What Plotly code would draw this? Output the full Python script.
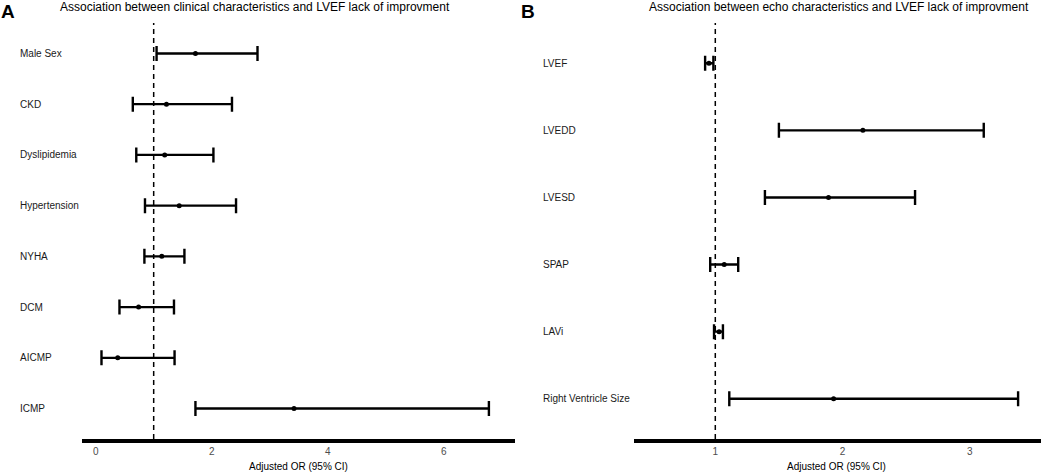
import plotly.graph_objects as go

# panel A: clinical characteristics
clin_labels = ["Male Sex", "CKD", "Dyslipidemia", "Hypertension", "NYHA", "DCM", "AICMP", "ICMP"]
clin_or = [1.72, 1.22, 1.19, 1.44, 1.14, 0.74, 0.38, 3.42]
clin_lo = [1.05, 0.64, 0.70, 0.85, 0.84, 0.41, 0.10, 1.72]
clin_hi = [2.79, 2.35, 2.03, 2.42, 1.53, 1.35, 1.36, 6.78]
clin_ticks = [0, 2, 4, 6]

# panel B: echo characteristics
echo_labels = ["LVEF", "LVEDD", "LVESD", "SPAP", "LAVi", "Right Ventricle Size"]
echo_or = [0.95, 2.16, 1.89, 1.07, 1.03, 1.93]
echo_lo = [0.92, 1.50, 1.39, 0.96, 0.99, 1.11]
echo_hi = [0.985, 3.11, 2.57, 1.18, 1.06, 3.38]
echo_ticks = [1, 2, 3]

W, H = 1041, 476
FONT = "Liberation Sans, Arial, sans-serif"

fig = go.Figure()


def add_panel(fig, labels, ors, lo, hi, xa, ya):
    ypos = list(range(1, len(labels) + 1))
    fig.add_trace(go.Scatter(
        x=ors, y=ypos, mode="markers", xaxis=xa, yaxis=ya,
        marker=dict(color="black", size=5),
        error_x=dict(type="data", symmetric=False,
                     array=[h - o for h, o in zip(hi, ors)],
                     arrayminus=[o - l for o, l in zip(ors, lo)],
                     color="black", thickness=2.4, width=7.5),
        showlegend=False, hoverinfo="skip",
    ))


add_panel(fig, clin_labels, clin_or, clin_lo, clin_hi, "x", "y")
add_panel(fig, echo_labels, echo_or, echo_lo, echo_hi, "x2", "y2")

xa_common = dict(showgrid=False, zeroline=False, showline=True, linecolor="black",
                 linewidth=4, ticks="", tickfont=dict(size=10, color="#4d4d4d", family=FONT),
                 ticklabelstandoff=0)
ya_common = dict(showgrid=False, zeroline=False, showline=False, showticklabels=False,
                 domain=[1 - 439 / H, 1 - 23 / H])

fig.update_layout(
    width=W, height=H,
    margin=dict(l=0, r=0, t=0, b=0),
    paper_bgcolor="white", plot_bgcolor="white",
    font=dict(family=FONT, color="black"),
    xaxis=dict(xa_common, domain=[82 / W, 515 / W], range=[-0.236, 7.23],
               tickvals=clin_ticks, anchor="y"),
    yaxis=dict(ya_common, range=[len(clin_labels) + 0.6, 0.4], anchor="x"),
    xaxis2=dict(xa_common, domain=[634 / W, 1.0], range=[0.361, 3.56],
                tickvals=echo_ticks, anchor="y2"),
    yaxis2=dict(ya_common, range=[len(echo_labels) + 0.6, 0.4], anchor="x2"),
)

# reference line at OR = 1
for xr, yr in (("x", "y"), ("x2", "y2")):
    fig.add_shape(type="line", xref=xr, yref=yr + " domain", x0=1, x1=1, y0=0, y1=1,
                  line=dict(color="black", width=1.5, dash="5px,4px"))

# row labels, left aligned
for labels, xpx, yr in ((clin_labels, 18, "y"), (echo_labels, 541, "y2")):
    for i, lab in enumerate(labels):
        fig.add_annotation(text=lab, xref="paper", yref=yr, x=xpx / W, y=i + 1,
                           xanchor="left", yanchor="middle", showarrow=False,
                           font=dict(size=10, color="#1a1a1a"))

# titles, panel letters, axis titles
notes = [
    ("Association between clinical characteristics and LVEF lack of improvment", 255, 7, 12),
    ("Association between echo characteristics and LVEF lack of improvment", 839, 7, 12),
    ("<b>A</b>", 8, 11, 19),
    ("<b>B</b>", 528, 11, 19),
    ("Adjusted OR (95% CI)", 298.5, 466, 10),
    ("Adjusted OR (95% CI)", 836, 466, 10),
]
for txt, xpx, ypx, size in notes:
    fig.add_annotation(text=txt, xref="paper", yref="paper", x=xpx / W, y=1 - ypx / H,
                       xanchor="center", yanchor="middle", showarrow=False,
                       font=dict(size=size, color="black"))

# drop the default page margin so the figure sits at the window's corner
fig.write_html("out.html", config={"displayModeBar": False},
               post_script="document.body.style.margin='0';")
